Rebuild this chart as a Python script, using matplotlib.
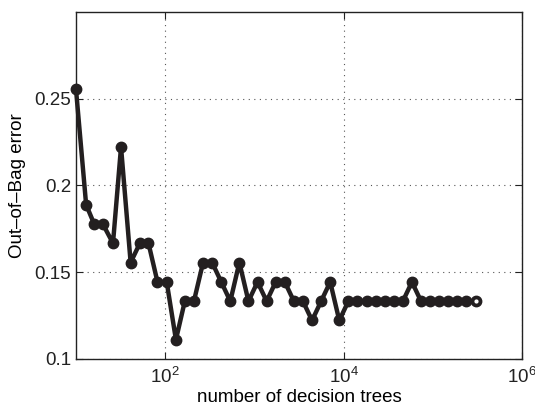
import matplotlib
matplotlib.use("Agg")
import matplotlib.pyplot as plt
from matplotlib.ticker import NullLocator, FixedLocator

# === DATA ===
n_trees = [10, 13, 16, 20, 26, 32, 41, 52, 65, 82,
           104, 132, 166, 210, 266, 336, 425, 537, 679, 858,
           1085, 1372, 1734, 2192, 2771, 3503, 4429, 5599, 7078, 8948,
           11312, 14300, 18078, 22854, 28892, 36524, 46173, 58370, 73790, 93284,
           117928, 149082, 188467, 238255, 301197]
oob_error = [0.2556, 0.1889, 0.1778, 0.1778, 0.1667, 0.2222, 0.1556, 0.1667, 0.1667, 0.1444,
             0.1444, 0.1111, 0.1333, 0.1333, 0.1556, 0.1556, 0.1444, 0.1333, 0.1556, 0.1333,
             0.1444, 0.1333, 0.1444, 0.1444, 0.1333, 0.1333, 0.1222, 0.1333, 0.1444, 0.1222,
             0.1333, 0.1333, 0.1333, 0.1333, 0.1333, 0.1333, 0.1333, 0.1444, 0.1333, 0.1333,
             0.1333, 0.1333, 0.1333, 0.1333, 0.1333]
x_ticks = [1e2, 1e4, 1e6]
y_ticks = [0.1, 0.15, 0.2, 0.25]
y_labels = ["0.1", "0.15", "0.2", "0.25"]

plt.rcParams["font.family"] = ["Liberation Sans", "DejaVu Sans"]
plt.rcParams["mathtext.fontset"] = "custom"
plt.rcParams["mathtext.rm"] = "Liberation Sans"
plt.rcParams["mathtext.it"] = "Liberation Sans"

FS = 13.5

fig = plt.figure(figsize=(5.35, 4.07), dpi=100)
ax = fig.add_axes([0.142, 0.118, 0.8337, 0.8525])

line_color = "#231f20"
ax.plot(n_trees, oob_error, color=line_color, linewidth=3.2,
        marker="o", markersize=7.5, markerfacecolor=line_color,
        markeredgecolor=line_color, zorder=3, clip_on=False)
# last marker shows a tiny hole in the reference
ax.plot(n_trees[-1:], oob_error[-1:], linestyle="none", marker="o",
        markersize=2, markerfacecolor="white", markeredgecolor="white", zorder=4)

ax.set_xscale("log")
ax.set_xlim(10, 1e6)
ax.set_ylim(0.1, 0.3)
ax.xaxis.set_major_locator(FixedLocator(x_ticks))
ax.xaxis.set_minor_locator(NullLocator())
ax.set_yticks(y_ticks)
ax.set_yticklabels(y_labels)

ax.grid(True, which="major", linestyle=(0, (1, 4)), color="#555555", linewidth=0.8)
ax.tick_params(which="both", direction="in", top=True, right=True,
               length=5, width=0.8, labelsize=FS, colors="#222222")
ax.tick_params(axis="y", pad=3.5)
ax.tick_params(axis="x", pad=6)
for s in ax.spines.values():
    s.set_linewidth(1.0)
    s.set_color("#222222")

ax.set_xlabel("number of decision trees", fontsize=FS, labelpad=1)
ax.set_ylabel("Out\u2013of\u2013Bag error", fontsize=FS, labelpad=6)

plt.savefig("out.png", dpi=100)
